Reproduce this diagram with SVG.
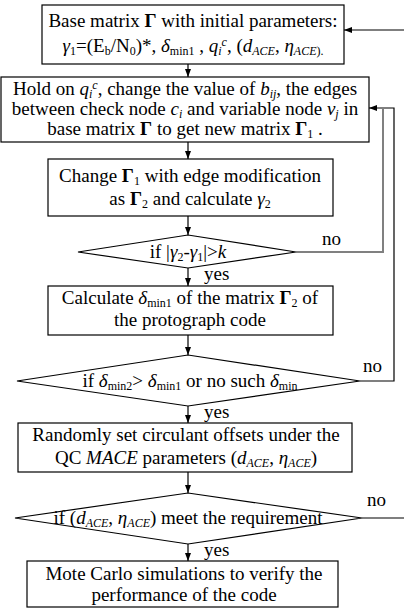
<svg xmlns="http://www.w3.org/2000/svg" width="404" height="612" viewBox="0 0 404 612">
<defs>
<marker id="ah" viewBox="0 0 8 8" refX="8" refY="4" markerWidth="8" markerHeight="8" markerUnits="userSpaceOnUse" orient="auto">
<path d="M0,1 L8,4 L0,7 Z" fill="#000"/>
</marker>
<style>
text{font-family:"Liberation Serif","Times New Roman",serif;font-size:19px;fill:#000}
.m{text-anchor:middle}
.b{font-weight:bold}
.i{font-style:italic}
.sb{font-size:12px;baseline-shift:-3px}
.sp{font-size:12px;baseline-shift:6px}
.nd{fill:#fff;stroke:#000;stroke-width:1.2}
.c{fill:none;stroke:#000;stroke-width:1.2}
.g{fill:none;stroke:#808080;stroke-width:2}
</style>
</defs>
<g id="connectors">
<line class="c" x1="404" y1="30" x2="344" y2="30" marker-end="url(#ah)"/>
<line class="c" x1="188" y1="64" x2="188" y2="77" marker-end="url(#ah)"/>
<line class="c" x1="188" y1="142" x2="188" y2="159" marker-end="url(#ah)"/>
<line class="c" x1="188" y1="216" x2="188" y2="235" marker-end="url(#ah)"/>
<line class="c" x1="188" y1="268" x2="188" y2="286" marker-end="url(#ah)"/>
<line class="c" x1="188" y1="335" x2="188" y2="355" marker-end="url(#ah)"/>
<line class="c" x1="188" y1="406" x2="188" y2="423" marker-end="url(#ah)"/>
<line class="c" x1="188" y1="472" x2="188" y2="493" marker-end="url(#ah)"/>
<line class="c" x1="188" y1="544" x2="188" y2="561" marker-end="url(#ah)"/>
<polyline class="c" points="360,381 394,381 394,108 369,108" marker-end="url(#ah)"/>
<polyline class="g" points="296,252 383,252 383,109"/>
<line class="c" x1="362" y1="518" x2="404" y2="518"/>
<text x="322" y="245">no</text>
<text x="363" y="372">no</text>
<text x="367" y="506">no</text>
<text x="204" y="280">yes</text>
<text x="204" y="418">yes</text>
<text x="204" y="556">yes</text>
</g>
<g id="n1">
<rect class="nd" x="42" y="5" width="302" height="59"/>
<text class="m" x="193" y="27">Base matrix <tspan class="b">Γ</tspan> with initial parameters:</text>
<text class="m" x="193" y="52"><tspan class="i">γ</tspan><tspan class="sb">1</tspan>=(E<tspan class="sb">b</tspan>/N<tspan class="sb">0</tspan>)*, <tspan class="i">δ</tspan><tspan class="sb">min1</tspan> , <tspan class="i">q</tspan><tspan class="sb i">i</tspan><tspan class="sp i">c</tspan>, (<tspan class="i">d</tspan><tspan class="sb i">ACE</tspan>, <tspan class="i">η</tspan><tspan class="sb i">ACE</tspan><tspan class="sb">).</tspan></text>
</g>
<g id="n2">
<rect class="nd" x="1" y="77" width="368" height="65"/>
<text class="m" x="185" y="95">Hold on <tspan class="i">q</tspan><tspan class="sb i">i</tspan><tspan class="sp i">c</tspan>, change the value of <tspan class="i">b</tspan><tspan class="sb i">ij</tspan>, the edges</text>
<text class="m" x="185" y="115">between check node <tspan class="i">c</tspan><tspan class="sb i">i</tspan> and variable node <tspan class="i">v</tspan><tspan class="sb i">j</tspan> in</text>
<text class="m" x="185" y="135">base matrix <tspan class="b">Γ</tspan> to get new matrix <tspan class="b">Γ</tspan><tspan class="sb">1</tspan> .</text>
</g>
<g id="n3">
<rect class="nd" x="48" y="159" width="285" height="57"/>
<text class="m" x="190" y="182">Change <tspan class="b">Γ</tspan><tspan class="sb">1</tspan> with edge modification</text>
<text class="m" x="190" y="205">as <tspan class="b">Γ</tspan><tspan class="sb">2</tspan> and calculate <tspan class="i">γ</tspan><tspan class="sb">2</tspan></text>
</g>
<g id="d1">
<polygon class="nd" points="78,252 188,235 296,252 188,268"/>
<text class="m" x="188" y="258">if |<tspan class="i">γ</tspan><tspan class="sb">2</tspan>-<tspan class="i">γ</tspan><tspan class="sb">1</tspan>|&gt;<tspan class="i">k</tspan></text>
</g>
<g id="n4">
<rect class="nd" x="48" y="286" width="285" height="49"/>
<text class="m" x="190" y="304">Calculate <tspan class="i">δ</tspan><tspan class="sb">min1</tspan> of the matrix  <tspan class="b">Γ</tspan><tspan class="sb">2</tspan> of</text>
<text class="m" x="190" y="326">the protograph code</text>
</g>
<g id="d2">
<polygon class="nd" points="17,381 188,355 360,381 188,406"/>
<text class="m" x="190" y="387">if <tspan class="i">δ</tspan><tspan class="sb">min2</tspan>&gt; <tspan class="i">δ</tspan><tspan class="sb">min1</tspan> or no such <tspan class="i">δ</tspan><tspan class="sb">min</tspan></text>
</g>
<g id="n5">
<rect class="nd" x="18" y="423" width="334" height="49"/>
<text class="m" x="186" y="441">Randomly set circulant offsets under the</text>
<text class="m" x="186" y="464">QC <tspan class="i">MACE</tspan> parameters  (<tspan class="i">d</tspan><tspan class="sb i">ACE</tspan>, <tspan class="i">η</tspan><tspan class="sb i">ACE</tspan>)</text>
</g>
<g id="d3">
<polygon class="nd" points="15,518 188,493 362,518 188,544"/>
<text class="m" x="188" y="524">if  (<tspan class="i">d</tspan><tspan class="sb i">ACE</tspan>, <tspan class="i">η</tspan><tspan class="sb i">ACE</tspan>) meet the requirement</text>
</g>
<g id="n6">
<rect class="nd" x="27" y="561" width="311" height="46"/>
<text class="m" x="184" y="580">Mote Carlo simulations to verify the</text>
<text class="m" x="184" y="601">performance of the code</text>
</g>
</svg>
